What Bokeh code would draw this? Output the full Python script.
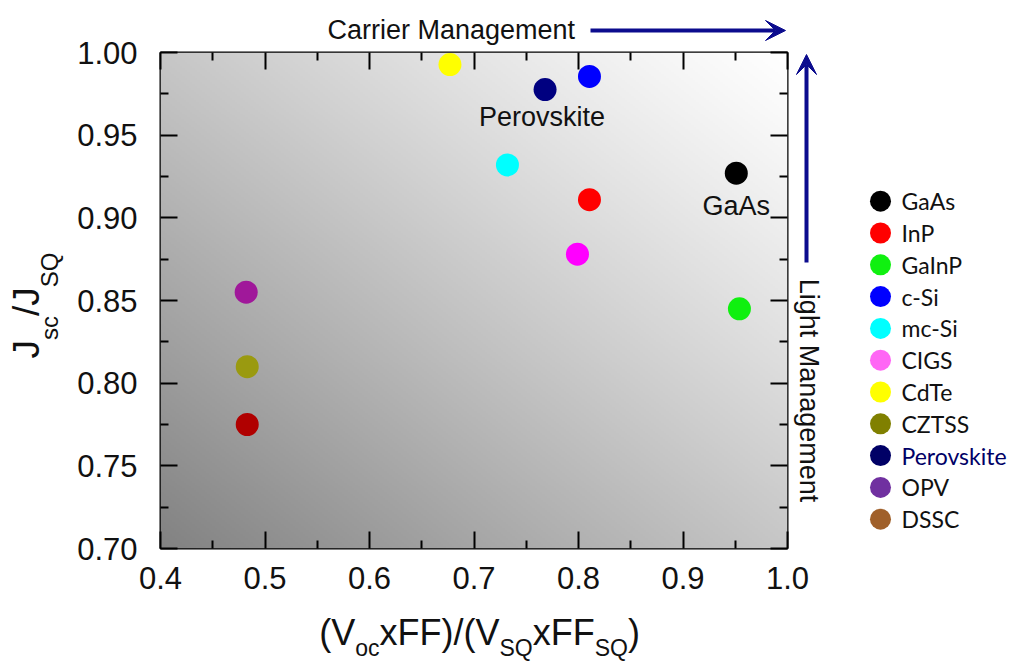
import math
import numpy as np
from bokeh.plotting import figure
from bokeh.models import (Range1d, LinearAxis, FixedTicker, PrintfTickFormatter,
                          Label, Arrow, VeeHead, ColumnDataSource)
from bokeh.layouts import row, column
from bokeh.embed import file_html
from bokeh.resources import INLINE
from bokeh.core.properties import value

# ---------------- data ----------------
materials = ["GaAs", "InP", "GaInP", "c-Si", "mc-Si", "CIGS", "CdTe", "CZTSS",
             "Perovskite", "OPV", "DSSC"]
voc_ff_ratio = [0.951, 0.8105, 0.954, 0.8105, 0.732, 0.799, 0.677, 0.483,
                0.768, 0.482, 0.483]
jsc_ratio = [0.927, 0.911, 0.845, 0.9855, 0.932, 0.878, 0.9927, 0.810,
             0.9776, 0.855, 0.775]
point_colors = ["#000000", "#FF0000", "#10F010", "#0000FF", "#00FFFF", "#FF00FF",
                "#FFFF00", "#9A9A10", "#000080", "#A0189A", "#B00000"]
legend_colors = ["#000000", "#FF0000", "#10F010", "#0000FF", "#00FFFF", "#FF66F5",
                 "#FFFF00", "#808000", "#000066", "#7030A0", "#A0602A"]
legend_text_colors = ["#111111"] * 8 + ["#000066"] + ["#111111"] * 2
annotated = ["Perovskite", "GaAs"]

x_major = [0.4, 0.5, 0.6, 0.7, 0.8, 0.9, 1.0]
x_minor = [0.45, 0.55, 0.65, 0.75, 0.85, 0.95]
y_major = [0.70, 0.75, 0.80, 0.85, 0.90, 0.95, 1.00]
y_minor = [0.725, 0.775, 0.825, 0.875, 0.925, 0.975]

# ---------------- layout constants (page pixels) ----------------
FONT = "Liberation Sans"
TXT = "#111111"
ARROW_COLOR = "#0C0C8E"
PAGE_W, PAGE_H = 1012, 662
F_L, F_R, F_T, F_B = 160, 787, 52, 548        # plot frame on the page
YL_W, YAX_W = 70, 68                           # y title strip, y tick-label strip
C0 = YL_W + YAX_W                              # left edge of right-hand column (138)
COL_W = PAGE_W - C0                            # 874
TOP_H, MAIN_H, XAX_H = 47, 506, 55
BOT_H = PAGE_H - TOP_H - MAIN_H - XAX_H        # 54
MAIN_W = 792 - C0                              # 654
RIGHT_W = PAGE_W - 792                         # 220
XR, YR = (0.4, 1.0), (0.7, 1.0)


def blank(w, h, xr, yr, **borders):
    f = figure(width=w, height=h, x_range=xr, y_range=yr,
               output_backend="svg", toolbar_location=None,
               x_axis_location=None, y_axis_location=None, **borders)
    f.outline_line_color = None
    f.background_fill_color = "white"
    f.border_fill_color = "white"
    f.xgrid.visible = False
    f.ygrid.visible = False
    return f


def lab(fig, x, y, text, size, angle=0.0, align="center", color=TXT):
    fig.add_layout(Label(x=x, y=y, text=text, angle=angle, text_font=FONT,
                         text_font_size=f"{size}px", text_color=color,
                         text_align=align, text_baseline="middle"))


def make_axis(major, minor, fmt, ticks, labels, standoff=0):
    ax = LinearAxis(ticker=FixedTicker(ticks=major, minor_ticks=minor),
                    formatter=PrintfTickFormatter(format=fmt))
    ax.axis_line_color = None
    ax.major_tick_out = 0
    ax.minor_tick_out = 0
    ax.major_tick_in = 17 if ticks else 0
    ax.minor_tick_in = 8 if ticks else 0
    ax.major_tick_line_width = 2
    ax.minor_tick_line_width = 2
    ax.major_tick_line_color = "black" if ticks else None
    ax.minor_tick_line_color = "black" if ticks else None
    ax.major_label_text_font = FONT
    ax.major_label_standoff = standoff
    if labels:
        ax.major_label_text_color = TXT
        ax.major_label_text_font_size = "31px"
    else:
        ax.major_label_text_color = None
        ax.major_label_text_font_size = "1px"
    return ax


x_range = Range1d(*XR)
y_range = Range1d(*YR)

# ---------------- main plot (ticks on all four sides) ----------------
p = figure(width=MAIN_W, height=MAIN_H, x_range=x_range, y_range=y_range,
           output_backend="svg", toolbar_location=None,
           x_axis_location=None, y_axis_location=None,
           min_border_left=F_L - C0, min_border_right=792 - F_R,
           min_border_top=F_T - TOP_H, min_border_bottom=TOP_H + MAIN_H - F_B)
p.background_fill_color = "white"
p.border_fill_color = "white"
p.outline_line_color = "black"
p.outline_line_width = 2
p.xgrid.visible = False
p.ygrid.visible = False

# gradient background (style only)
ny, nx = 250, 500
u = np.linspace(0, 1, nx)[None, :]
v = np.linspace(0, 1, ny)[:, None]
t = (u + v) / 2.0
g = 255 - 125 * (1 - t) ** 1.15
img = np.empty((ny, nx), dtype=np.uint32)
view = img.view(dtype=np.uint8).reshape((ny, nx, 4))
gg = np.clip(g, 0, 255).astype(np.uint8)
view[..., 0] = gg
view[..., 1] = gg
view[..., 2] = gg
view[..., 3] = 255
p.image_rgba(image=[img], x=XR[0], y=YR[0], dw=XR[1] - XR[0], dh=YR[1] - YR[0])

p.add_layout(make_axis(x_major, x_minor, "%.1f", True, False), "below")
p.add_layout(make_axis(y_major, y_minor, "%.2f", True, False), "left")
p.add_layout(make_axis(x_major, x_minor, "%.1f", True, False), "above")
p.add_layout(make_axis(y_major, y_minor, "%.2f", True, False), "right")

src = ColumnDataSource(dict(x=voc_ff_ratio, y=jsc_ratio, c=point_colors, name=materials))
p.scatter(x="x", y="y", size=23, fill_color="c", line_color=None, source=src)

offsets = {"Perovskite": (-3, -27), "GaAs": (0, -33)}
for name in annotated:
    i = materials.index(name)
    dx, dy = offsets[name]
    p.add_layout(Label(x=voc_ff_ratio[i], y=jsc_ratio[i], x_offset=dx, y_offset=dy,
                       text=name, text_align="center", text_baseline="middle",
                       text_font=FONT, text_font_size="27px", text_color=TXT))

# ---------------- y tick labels (own strip, shares the y scale) ----------------
yax = blank(YAX_W, PAGE_H, Range1d(0, 1), y_range,
            min_border_left=YAX_W - 1, min_border_right=0,
            min_border_top=F_T, min_border_bottom=PAGE_H - F_B)
yax.add_layout(make_axis(y_major, y_minor, "%.2f", False, True, 0), "left")

# ---------------- x tick labels (own strip, shares the x scale) ----------------
xax = blank(COL_W, XAX_H, x_range, Range1d(0, 1),
            min_border_left=F_L - C0, min_border_right=PAGE_W - F_R,
            min_border_top=0, min_border_bottom=XAX_H - 1)
xax.add_layout(make_axis(x_major, x_minor, "%.1f", False, True, 12), "below")

# ---------------- top strip: carrier management ----------------
top = blank(COL_W, TOP_H, Range1d(F_L, F_R), Range1d(TOP_H, 0),
            min_border_left=F_L - C0, min_border_right=PAGE_W - F_R,
            min_border_top=0, min_border_bottom=0)
lab(top, 327, 29, "Carrier Management", 27, align="left")
top.add_layout(Arrow(end=VeeHead(size=20, fill_color=ARROW_COLOR, line_color=ARROW_COLOR),
                     x_start=590, y_start=30, x_end=785, y_end=30,
                     line_color=ARROW_COLOR, line_width=4))

# ---------------- axis-title helpers ----------------
AW = {'(': 0.333, ')': 0.333, 'V': 0.667, 'o': 0.556, 'c': 0.5, 'x': 0.5, 'F': 0.611,
      '/': 0.278, 'S': 0.667, 'Q': 0.778, 'J': 0.5, 's': 0.5}


def tw(s, size):
    return sum(AW[ch] for ch in s) * size


# ---------------- y title strip ----------------
ylab = blank(YL_W, PAGE_H, Range1d(0, YL_W), Range1d(F_B, F_T),
             min_border_left=0, min_border_right=0,
             min_border_top=F_T, min_border_bottom=PAGE_H - F_B)
YB, YS = 37, 24
ylabel_parts = [("J", False), ("sc", True), ("/J", False), ("SQ", True)]
cur = 358
for s, sub in ylabel_parts:
    size = YS if sub else YB
    w = tw(s, size)
    lab(ylab, 49 if sub else 26, cur - w / 2, s, size, angle=math.pi / 2)
    cur -= w

# ---------------- x title strip ----------------
Y0 = TOP_H + MAIN_H + XAX_H
bottom = blank(COL_W, BOT_H, Range1d(F_L, F_R), Range1d(PAGE_H, Y0),
               min_border_left=F_L - C0, min_border_right=PAGE_W - F_R,
               min_border_top=0, min_border_bottom=0)
XB, XS = 36, 23
xlabel_parts = [("(V", False), ("oc", True), ("xFF)/(V", False), ("SQ", True),
                ("xFF", False), ("SQ", True), (")", False)]
total = sum(tw(s, XS if sub else XB) for s, sub in xlabel_parts)
cur = 479 - total / 2
for s, sub in xlabel_parts:
    size = XS if sub else XB
    lab(bottom, cur, 647 if sub else 632, s, size, align="left")
    cur += tw(s, size)

# ---------------- right strip: light management + legend ----------------
right = blank(RIGHT_W, MAIN_H, Range1d(792, PAGE_W), Range1d(F_B, F_T), min_border=0)
right.add_layout(Arrow(end=VeeHead(size=20, fill_color=ARROW_COLOR, line_color=ARROW_COLOR),
                       x_start=806, y_start=262, x_end=806, y_end=54,
                       line_color=ARROW_COLOR, line_width=4))
lab(right, 808, 390, "Light Management", 27, angle=-math.pi / 2)

n = len(materials)
LEG_ROW0, LEG_STEP = 200.7, 31.8
leg_y = [LEG_ROW0 + LEG_STEP * i for i in range(n)]
lsrc = ColumnDataSource(dict(y=leg_y, c=legend_colors, t=materials, tc=legend_text_colors))
right.scatter(x=880, y="y", size=21, fill_color="c", line_color=None, source=lsrc)
right.text(x=901, y="y", text="t", text_color="tc", text_font=value("Lato"),
           text_font_size="23px", text_baseline="middle", source=lsrc)

layout = row(ylab, yax, column(top, row(p, right), xax, bottom))
open("out.html", "w").write(file_html(layout, INLINE, "chart"))
